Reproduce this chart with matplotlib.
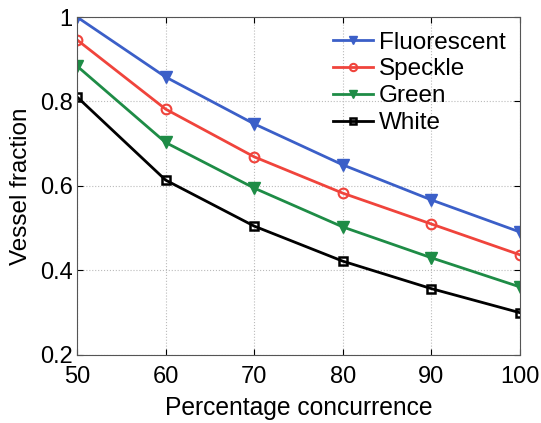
import numpy as np
import matplotlib.pyplot as plt

plt.rcParams['font.family'] = ['Liberation Sans', 'DejaVu Sans']

concurrence = [50, 60, 70, 80, 90, 100]
fluorescent = [1.0, 0.858, 0.747, 0.650, 0.567, 0.491]
speckle = [0.946, 0.782, 0.669, 0.583, 0.510, 0.437]
green = [0.884, 0.703, 0.595, 0.503, 0.430, 0.361]
white = [0.811, 0.614, 0.505, 0.422, 0.357, 0.300]

fig = plt.figure(figsize=(5.41, 4.23), dpi=100)
ax = fig.add_axes([0.1423, 0.1608, 0.819, 0.799])

ax.plot(concurrence, fluorescent, color='#3b5fc8', lw=2, marker='v', ms=8, label='Fluorescent')
ax.plot(concurrence, speckle, color='#f0443c', lw=2, marker='o', ms=7, mfc='none', mew=1.5, label='Speckle')
ax.plot(concurrence, green, color='#1e8c46', lw=2, marker='v', ms=8, label='Green')
ax.plot(concurrence, white, color='black', lw=2, marker='s', ms=6, mfc='none', mew=1.8, label='White')

ax.set_xlim(50, 100)
ax.set_ylim(0.2, 1.0)
ax.set_xticks([50, 60, 70, 80, 90, 100])
ax.set_yticks([0.2, 0.4, 0.6, 0.8, 1.0])
ax.set_yticklabels(['0.2', '0.4', '0.6', '0.8', '1'])
ax.tick_params(direction='in', labelsize=17, top=True, right=True, length=4)
ax.tick_params(axis='x', pad=8)
ax.tick_params(axis='y', pad=3)
for s in ax.spines.values():
    s.set_color('#555555')
ax.grid(True, linestyle=':', color='#bbbbbb', lw=0.8)
ax.set_xlabel('Percentage concurrence', fontsize=17.7, labelpad=6)
ax.set_ylabel('Vessel fraction', fontsize=17.5, labelpad=6)
ax.legend(loc='upper right', frameon=False, fontsize=17.5, handlelength=1.65,
          handletextpad=0.25, labelspacing=0.2, borderaxespad=0.2, markerscale=0.75)

plt.savefig('out.png', dpi=100)
